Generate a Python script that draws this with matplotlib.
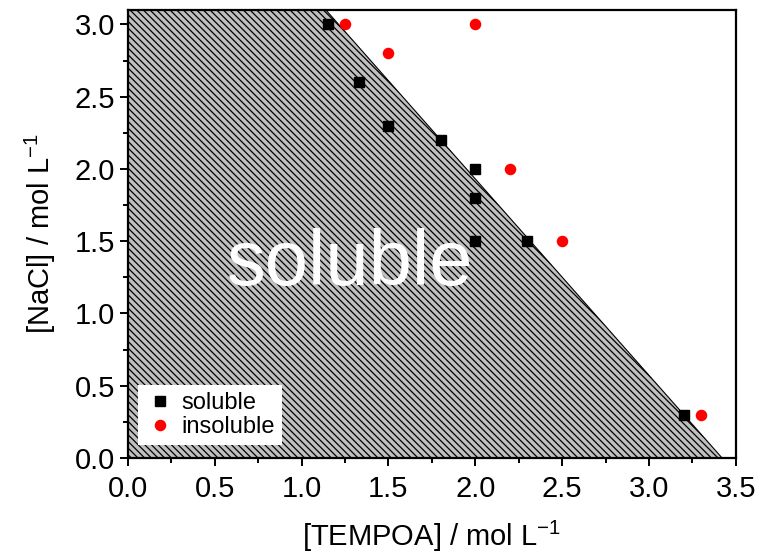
import matplotlib
matplotlib.use("Agg")
import matplotlib.pyplot as plt
from matplotlib.patches import Polygon
from matplotlib.ticker import MultipleLocator, FormatStrFormatter

plt.rcParams['font.family'] = ['Liberation Sans', 'DejaVu Sans']
plt.rcParams['hatch.linewidth'] = 0.9

sol_x = [1.15, 1.33, 1.5, 1.8, 2.0, 2.0, 2.0, 2.3, 3.2]
sol_y = [3.0, 2.6, 2.3, 2.2, 2.0, 1.8, 1.5, 1.5, 0.3]
ins_x = [1.25, 1.5, 2.0, 2.2, 2.5, 3.3]
ins_y = [3.0, 2.8, 3.0, 2.0, 1.5, 0.3]
region_x = [0.0, 0.0, 1.14, 3.42]
region_y = [0.0, 3.1, 3.1, 0.0]

fig = plt.figure(figsize=(7.61, 5.55), dpi=100)
ax = fig.add_axes([0.168, 0.175, 0.799, 0.807])

poly = Polygon(list(zip(region_x, region_y)), closed=True, facecolor='#c0c0c0',
               edgecolor='black', hatch='\\' * 5, linewidth=0.8, zorder=1)
ax.add_patch(poly)

ax.plot(sol_x, sol_y, 's', color='black', markersize=7.7, label='soluble', zorder=3)
ax.plot(ins_x, ins_y, 'o', color='#ff0000', markersize=8.3, markeredgewidth=0, label='insoluble', zorder=3)

ax.text(1.28, 1.34, 'soluble', color='white', fontsize=56, ha='center', va='center', zorder=4)

ax.set_xlim(0, 3.5)
ax.set_ylim(0, 3.1)
ax.xaxis.set_major_locator(MultipleLocator(0.5))
ax.xaxis.set_minor_locator(MultipleLocator(0.25))
ax.yaxis.set_major_locator(MultipleLocator(0.5))
ax.yaxis.set_minor_locator(MultipleLocator(0.25))
ax.xaxis.set_major_formatter(FormatStrFormatter('%.1f'))
ax.yaxis.set_major_formatter(FormatStrFormatter('%.1f'))
ax.tick_params(which='major', direction='out', length=6, width=1.4, labelsize=21, top=False, right=False)
ax.tick_params(axis='x', which='major', pad=6)
ax.tick_params(axis='y', which='major', pad=3)
ax.tick_params(which='minor', direction='out', length=3.5, width=1.4, top=False, right=False)
for s in ax.spines.values():
    s.set_linewidth(1.6)

ax.set_xlabel('[TEMPOA] / mol L$^{\\mathregular{-1}}$', fontsize=21, labelpad=12)
ax.set_ylabel('[NaCl] / mol L$^{\\mathregular{-1}}$', fontsize=21, labelpad=12)

leg = ax.legend(loc='lower left', bbox_to_anchor=(0.016, 0.029), borderaxespad=0,
                frameon=True, fancybox=False, fontsize=17, handletextpad=0.3,
                handlelength=1.27, borderpad=0.3, labelspacing=0.08)
leg.get_frame().set_edgecolor('white')
leg.get_frame().set_facecolor('white')
leg.get_frame().set_alpha(1)
leg.get_frame().set_linewidth(0)

fig.savefig('out.png', dpi=100)
